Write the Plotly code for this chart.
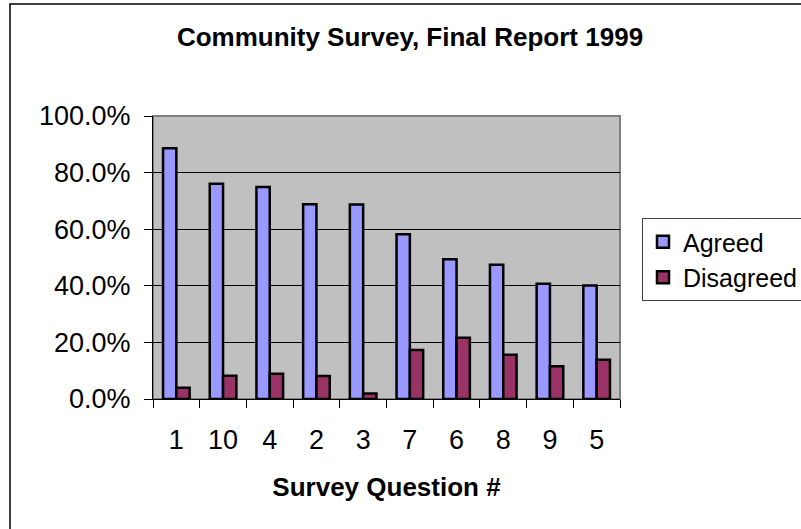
import plotly.graph_objects as go

questions = ["1", "10", "4", "2", "3", "7", "6", "8", "9", "5"]
agreed = [88.6, 76.1, 74.9, 68.8, 68.7, 58.2, 49.4, 47.4, 40.7, 40.1]
disagreed = [4.0, 8.2, 8.9, 8.1, 1.9, 17.3, 21.6, 15.6, 11.6, 13.9]
y_ticks = [0, 20, 40, 60, 80, 100]
y_tick_text = [f"{v:.1f}%" for v in y_ticks]

W, H = 801, 529
ML, MR, MT, MB = 153, 181, 116, 130
PW, PH = W - ML - MR, H - MT - MB
FONT = "'Liberation Sans', Arial, sans-serif"

fig = go.Figure()
fig.add_trace(go.Bar(name="Agreed", x=questions, y=agreed,
                     marker=dict(color="#9999FF", line=dict(color="black", width=2.5))))
fig.add_trace(go.Bar(name="Disagreed", x=questions, y=disagreed,
                     marker=dict(color="#993366", line=dict(color="black", width=2.5))))

def px_x(p):
    return (p - ML) / PW

def px_y(p):
    return (H - MB - p) / PH

fig.update_layout(
    width=W, height=H,
    margin=dict(l=ML, r=MR, t=MT, b=MB, pad=0, autoexpand=False),
    paper_bgcolor="white",
    plot_bgcolor="#C0C0C0",
    barmode="group", bargap=0.43, bargroupgap=0,
    font=dict(family=FONT, color="black", size=27),
    title=dict(text="<b>Community Survey, Final Report 1999</b>",
               font=dict(size=26, family=FONT, color="black"),
               x=410 / W, xanchor="center", xref="container",
               y=1 - 28 / H, yanchor="top", yref="container"),
    legend=dict(x=px_x(642), y=px_y(218), xanchor="left", yanchor="top",
                bgcolor="white", bordercolor="#404040", borderwidth=1,
                font=dict(size=25, family=FONT), tracegroupgap=0,
                itemwidth=30),
    showlegend=True,
    shapes=[
        dict(type="rect", xref="paper", yref="paper", x0=0, x1=1, y0=0, y1=1,
             line=dict(color="#808080", width=2), layer="below"),
        dict(type="rect", xref="paper", yref="paper",
             x0=px_x(10), x1=px_x(W + 20), y0=px_y(H + 20), y1=px_y(4),
             line=dict(color="black", width=1.5), layer="below"),
    ],
)
fig.update_xaxes(
    type="category", tickson="boundaries", ticks="outside", ticklen=8,
    tickcolor="black", showline=True, linecolor="black", linewidth=1,
    showgrid=False, ticklabelstandoff=17, automargin=False,
    tickfont=dict(size=27, family=FONT),
    title=dict(text="<b>Survey Question #</b>", font=dict(size=26, family=FONT), standoff=23),
)
fig.update_yaxes(
    range=[0, 100], tickvals=y_ticks, ticktext=y_tick_text,
    ticks="outside", ticklen=8, tickcolor="black",
    showline=True, linecolor="black", linewidth=1,
    showgrid=True, gridcolor="black", gridwidth=1,
    zeroline=False, ticklabelstandoff=8, automargin=False,
    tickfont=dict(size=27, family=FONT),
)

fig.write_html("out.html")
